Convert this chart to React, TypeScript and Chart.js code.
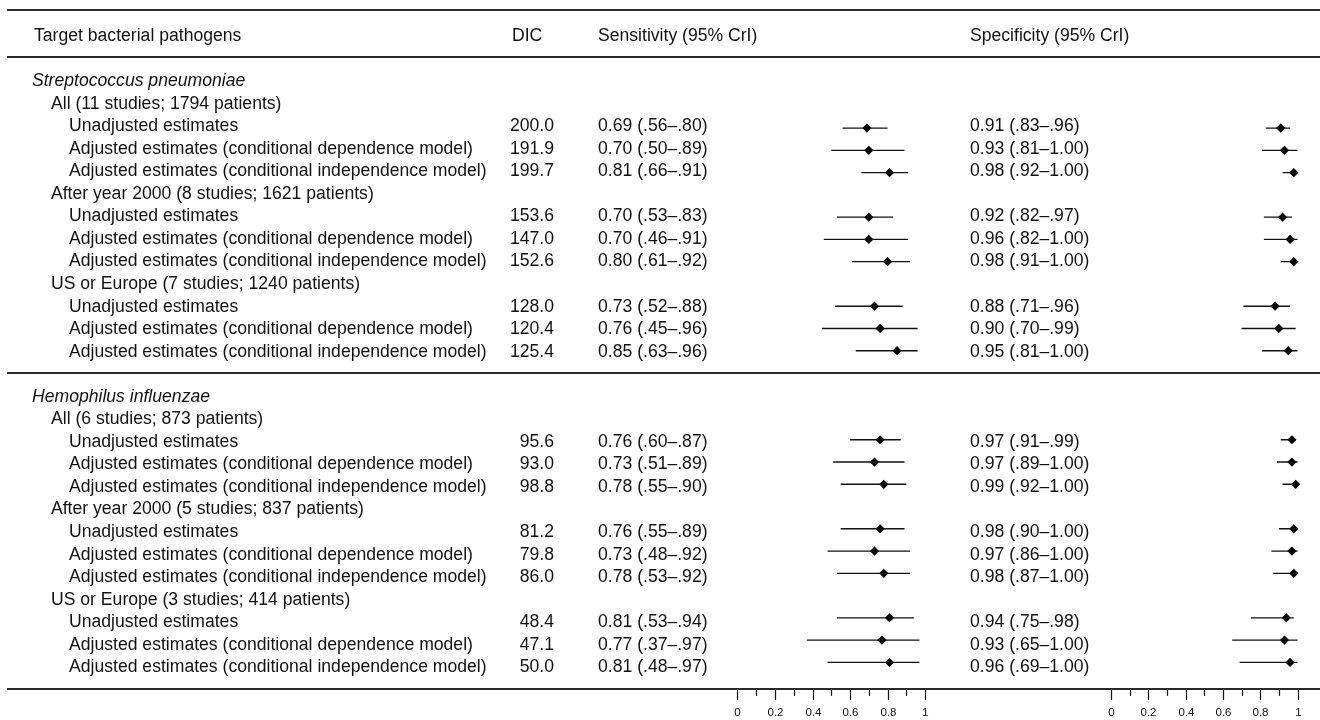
import React, { useEffect, useRef } from "react";
import { Chart, registerables } from "chart.js";

Chart.register(...registerables);

// ---------- data ----------
const PATHOGENS = ["Streptococcus pneumoniae", "Hemophilus influenzae"];
const SUBGROUPS = [
  "All (11 studies; 1794 patients)",
  "After year 2000 (8 studies; 1621 patients)",
  "US or Europe (7 studies; 1240 patients)",
  "All (6 studies; 873 patients)",
  "After year 2000 (5 studies; 837 patients)",
  "US or Europe (3 studies; 414 patients)",
];
const MODELS = [
  "Unadjusted estimates",
  "Adjusted estimates (conditional dependence model)",
  "Adjusted estimates (conditional independence model)",
];
const DIC = ["200.0", "191.9", "199.7", "153.6", "147.0", "152.6", "128.0", "120.4", "125.4",
  "95.6", "93.0", "98.8", "81.2", "79.8", "86.0", "48.4", "47.1", "50.0"];
const SENS = [0.69, 0.70, 0.81, 0.70, 0.70, 0.80, 0.73, 0.76, 0.85, 0.76, 0.73, 0.78, 0.76, 0.73, 0.78, 0.81, 0.77, 0.81];
const SENS_LO = [0.56, 0.50, 0.66, 0.53, 0.46, 0.61, 0.52, 0.45, 0.63, 0.60, 0.51, 0.55, 0.55, 0.48, 0.53, 0.53, 0.37, 0.48];
const SENS_HI = [0.80, 0.89, 0.91, 0.83, 0.91, 0.92, 0.88, 0.96, 0.96, 0.87, 0.89, 0.90, 0.89, 0.92, 0.92, 0.94, 0.97, 0.97];
const SPEC = [0.91, 0.93, 0.98, 0.92, 0.96, 0.98, 0.88, 0.90, 0.95, 0.97, 0.97, 0.99, 0.98, 0.97, 0.98, 0.94, 0.93, 0.96];
const SPEC_LO = [0.83, 0.81, 0.92, 0.82, 0.82, 0.91, 0.71, 0.70, 0.81, 0.91, 0.89, 0.92, 0.90, 0.86, 0.87, 0.75, 0.65, 0.69];
const SPEC_HI = [0.96, 1.00, 1.00, 0.97, 1.00, 1.00, 0.96, 0.99, 1.00, 0.99, 1.00, 1.00, 1.00, 1.00, 1.00, 0.98, 1.00, 1.00];
const AXIS_TICKS = [0, 0.1, 0.2, 0.3, 0.4, 0.5, 0.6, 0.7, 0.8, 0.9, 1];
const AXIS_LABELS = ["0", "", "0.2", "", "0.4", "", "0.6", "", "0.8", "", "1"];
const HEADERS = ["Target bacterial pathogens", "DIC", "Sensitivity (95% CrI)", "Specificity (95% CrI)"];

// ---------- layout ----------
const W = 1320;
const H = 720;
const Y0 = 80;
const ROW = 22.55;
const SENS_X0 = 738, SENS_X1 = 927;
const SPEC_X0 = 1114, SPEC_X1 = 1302;
const FONT = "'Liberation Sans', Arial, Helvetica, sans-serif";
const FS = 17.6;
const X_HEAD = 34, X_TITLE = 32, X_SUB = 51, X_ITEM = 69;
const X_DIC_HEAD = 512, X_DIC_RIGHT = 554, X_SENS = 598, X_SPEC = 970;

const itemIdx = (k: number) => {
  const s = Math.floor(k / 9);
  const sub = Math.floor(k / 3) % 3;
  return s * 14 + 1 + sub * 4 + 1 + (k % 3);
};
const subIdx = (g: number) => Math.floor(g / 3) * 14 + 1 + (g % 3) * 4;
const titleIdx = (s: number) => s * 14;
const yPx = (idx: number) => Y0 + idx * ROW;

const f2 = (v: number) => v.toFixed(2);
const fCI = (v: number) => (v >= 1 ? "1.00" : v.toFixed(2).replace(/^0/, ""));
const ciText = (m: number, lo: number, hi: number) => `${f2(m)} (${fCI(lo)}\u2013${fCI(hi)})`;

const RULES = [-3.1, -1, 13, 27];

const axisPlugin = {
  id: "forestAxis",
  afterDraw(chart: any) {
    const ctx = chart.ctx;
    const yBase = yPx(27) + 1;
    ctx.save();
    ctx.strokeStyle = "#111";
    ctx.fillStyle = "#111";
    ctx.lineWidth = 1.2;
    ctx.font = `11.5px ${FONT}`;
    ctx.textAlign = "center";
    ctx.textBaseline = "middle";
    ["xS", "xP"].forEach((id) => {
      const sc = chart.scales[id];
      AXIS_TICKS.forEach((t, i) => {
        const px = Math.round(sc.getPixelForValue(t)) + 0.5;
        const major = i % 2 === 0;
        ctx.beginPath();
        ctx.moveTo(px, yBase);
        ctx.lineTo(px, yBase + (major ? 10 : 6));
        ctx.stroke();
        if (AXIS_LABELS[i]) ctx.fillText(AXIS_LABELS[i], px, yBase + 23);
      });
    });
    ctx.restore();
  },
};

function ChartCanvas() {
  const ref = useRef<HTMLCanvasElement | null>(null);
  useEffect(() => {
    if (!ref.current) return;
    const ciData = (lo: number[], hi: number[]) => {
      const out: any[] = [];
      lo.forEach((l, k) => {
        out.push({ x: l, y: itemIdx(k) });
        out.push({ x: hi[k], y: itemIdx(k) });
        out.push({ x: null, y: null });
      });
      return out;
    };
    const ptData = (v: number[]) => v.map((x, k) => ({ x, y: itemIdx(k) }));
    const sMin = -SENS_X0 / (SENS_X1 - SENS_X0);
    const sMax = (W - SENS_X0) / (SENS_X1 - SENS_X0);
    const pMin = -SPEC_X0 / (SPEC_X1 - SPEC_X0);
    const pMax = (W - SPEC_X0) / (SPEC_X1 - SPEC_X0);
    const lineDs = (data: any[], axis: string) => ({
      type: "line" as const,
      data,
      xAxisID: axis,
      yAxisID: "y",
      borderColor: "#111",
      borderWidth: 1.4,
      pointRadius: 0,
      spanGaps: false,
      fill: false,
    });
    const ptDs = (data: any[], axis: string) => ({
      type: "scatter" as const,
      data,
      xAxisID: axis,
      yAxisID: "y",
      pointStyle: "rectRot",
      pointRadius: 4.6,
      backgroundColor: "#000",
      borderColor: "#000",
      borderWidth: 0,
    });
    const chart = new Chart(ref.current, {
      type: "scatter",
      data: {
        datasets: [
          lineDs(ciData(SENS_LO, SENS_HI), "xS"),
          lineDs(ciData(SPEC_LO, SPEC_HI), "xP"),
          ptDs(ptData(SENS), "xS"),
          ptDs(ptData(SPEC), "xP"),
        ] as any,
      },
      options: {
        animation: false,
        responsive: false,
        maintainAspectRatio: false,
        layout: { padding: 0 },
        plugins: { legend: { display: false }, tooltip: { enabled: false } },
        scales: {
          xS: { type: "linear", display: false, min: sMin, max: sMax },
          xP: { type: "linear", display: false, min: pMin, max: pMax },
          y: { type: "linear", display: false, reverse: true, min: -Y0 / ROW, max: (H - Y0) / ROW },
        },
      },
      plugins: [axisPlugin],
    });
    return () => chart.destroy();
  }, []);
  return <canvas ref={ref} width={W} height={H} style={{ position: "absolute", left: 0, top: 0, width: W, height: H }} />;
}

const LH = 20;
function Txt(props: { x?: number; right?: number; idx: number; children: any; italic?: boolean }) {
  const style: any = {
    position: "absolute",
    top: yPx(props.idx) - LH / 2,
    lineHeight: `${LH}px`,
    height: LH,
    whiteSpace: "nowrap",
    fontStyle: props.italic ? "italic" : "normal",
  };
  if (props.right !== undefined) {
    style.right = W - props.right;
    style.textAlign = "right";
  } else style.left = props.x;
  return <div style={style}>{props.children}</div>;
}

export default function App() {
  return (
    <div
      style={{
        position: "absolute",
        left: 0,
        top: 0,
        width: W,
        height: H,
        background: "#fff",
        fontFamily: FONT,
        fontSize: FS,
        color: "#111",
        overflow: "hidden",
      }}
    >
      <ChartCanvas />
      {RULES.map((r, i) => (
        <div key={"r" + i} style={{ position: "absolute", left: 7, width: W - 7, top: yPx(r) - 1, height: 2, background: "#2a2a2a" }} />
      ))}
      <Txt x={X_HEAD} idx={-2}>{HEADERS[0]}</Txt>
      <Txt x={X_DIC_HEAD} idx={-2}>{HEADERS[1]}</Txt>
      <Txt x={X_SENS} idx={-2}>{HEADERS[2]}</Txt>
      <Txt x={X_SPEC} idx={-2}>{HEADERS[3]}</Txt>
      {PATHOGENS.map((p, s) => (
        <Txt key={"p" + s} x={X_TITLE} idx={titleIdx(s)} italic>{p}</Txt>
      ))}
      {SUBGROUPS.map((g, i) => (
        <Txt key={"g" + i} x={X_SUB} idx={subIdx(i)}>{g}</Txt>
      ))}
      {DIC.map((d, k) => (
        <React.Fragment key={"k" + k}>
          <Txt x={X_ITEM} idx={itemIdx(k)}>{MODELS[k % 3]}</Txt>
          <Txt right={X_DIC_RIGHT} idx={itemIdx(k)}>{d}</Txt>
          <Txt x={X_SENS} idx={itemIdx(k)}>{ciText(SENS[k], SENS_LO[k], SENS_HI[k])}</Txt>
          <Txt x={X_SPEC} idx={itemIdx(k)}>{ciText(SPEC[k], SPEC_LO[k], SPEC_HI[k])}</Txt>
        </React.Fragment>
      ))}
    </div>
  );
}
